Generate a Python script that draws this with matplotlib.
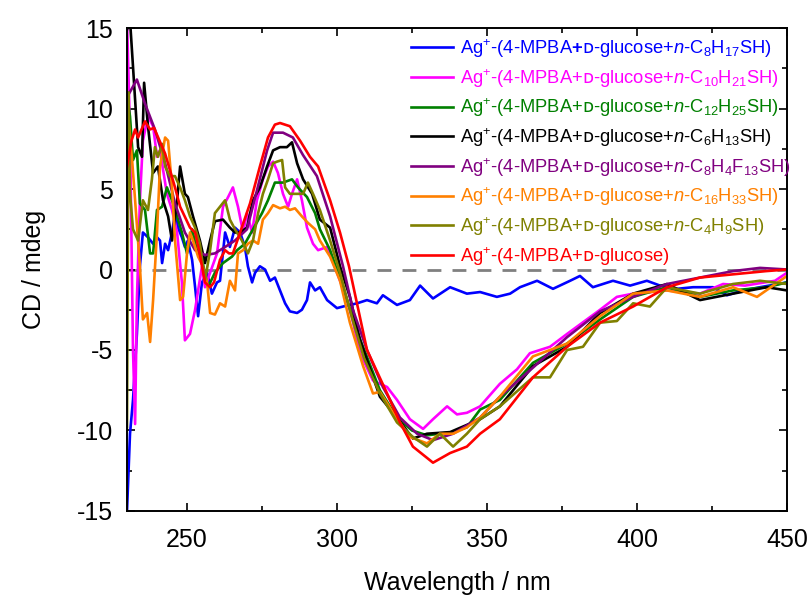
import matplotlib
matplotlib.use("Agg")
import matplotlib.pyplot as plt
from matplotlib.ticker import MultipleLocator

plt.rcParams['font.family'] = ['Liberation Sans', 'DejaVu Sans']
plt.rcParams['mathtext.fontset'] = 'custom'
plt.rcParams['mathtext.rm'] = 'Liberation Sans'
plt.rcParams['mathtext.it'] = 'Liberation Sans:italic'
plt.rcParams['mathtext.bf'] = 'Liberation Sans:bold'
plt.rcParams['mathtext.sf'] = 'DejaVu Sans'
plt.rcParams['axes.unicode_minus'] = False

# ---- data (wavelength nm, CD mdeg) ----
wl_c8 = [230, 231, 232, 233.3, 234.3, 235.3, 237, 238.7, 240, 241, 241.7, 242.7, 243.7, 245, 246, 247,
         248.3, 249.3, 250.3, 251.7, 252.7, 253.7, 255, 256.7, 258.3, 260, 261, 262.7, 264.3, 266, 267.7,
         269.3, 270.3, 271.7, 272.7, 274.3, 276, 277.7, 279.3, 281, 282.7, 284.3, 286.7, 288.3, 290, 291,
         292.7, 294.3, 296.7, 300, 302, 306.7, 310, 313.3, 315.3, 320, 324.3, 327.7, 332, 337.7, 343.3,
         347.7, 353.3, 357.7, 361, 366.7, 372, 377.7, 381, 385.3, 392, 397.7, 403.3, 407.7, 413.3, 418.7,
         425.3, 430, 435.3, 441, 450]
cd_c8 = [-15.0, -10.2, -8.1, -4.0, 0.2, 2.3, 2.0, 1.6, 2.0, 1.8, 0.4, 1.6, 1.2, 2.3, 3.5, 2.6,
         2.0, 1.4, 1.8, 0.6, -1.1, -2.9, -0.8, -0.2, -1.5, -0.8, -0.7, 2.3, 1.4, 2.6, 2.3,
         1.4, 0.2, -0.8, -0.2, 0.2, 0.0, -0.7, -0.5, -1.3, -2.1, -2.6, -2.7, -2.5, -1.9, -0.8,
         -1.3, -1.1, -1.9, -2.4, -2.3, -2.1, -1.9, -2.1, -1.6, -2.2, -1.9, -1.0, -1.8, -1.1, -1.5,
         -1.4, -1.7, -1.5, -1.1, -0.7, -1.2, -0.7, -0.4, -1.1, -0.7, -1.0, -0.7, -1.0, -1.2, -1.1,
         -1.1, -1.6, -1.3, -1.1, -0.8]

wl_c10 = [230, 231, 232, 232.7, 233.3, 234.3, 235.3, 237, 238.7, 240, 241, 243.3, 245, 246.7, 248.3,
          249.3, 251, 252.7, 253.7, 255, 256, 257.7, 260, 262, 263.7, 265.3, 267, 268.7, 270, 271.7,
          273.3, 275.3, 277, 278.7, 280.3, 282, 283.7, 285, 286.7, 288.3, 290, 292, 293.7, 296.7, 300,
          303, 305, 307.7, 312, 316.7, 320, 324.3, 328.7, 332, 336.7, 340, 343.3, 347.7, 354.3, 360,
          364.3, 371, 376.7, 387.7, 393.3, 398.7, 410, 421, 428.7, 436, 446, 450]
cd_c10 = [15.5, 8.5, -5.0, -9.6, -1.9, 4.3, 8.0, 9.5, 8.9, 7.0, 7.4, 4.7, 3.7, 2.3, -0.8,
          -4.4, -4.0, -2.5, -1.3, 0.2, -1.1, -0.2, 1.0, 3.9, 4.5, 5.1, 3.9, 2.3, 3.5, 2.3,
          4.3, 5.6, 6.4, 6.7, 6.0, 4.7, 3.9, 4.7, 5.6, 4.3, 2.6, 1.6, 1.2, 1.4, -0.2,
          -1.7, -3.0, -5.2, -6.9, -7.3, -8.1, -9.3, -9.9, -9.3, -8.5, -9.0, -8.9, -8.5, -7.1, -6.2,
          -5.2, -4.8, -4.0, -2.5, -1.7, -1.5, -1.3, -1.5, -0.9, -1.0, -0.7, -0.2]

wl_c12 = [230, 231, 232, 233.3, 234.3, 236, 237.7, 238.7, 240, 241.7, 243.3, 245, 246.7, 248.3, 250,
          251.7, 253.3, 255, 257, 259.3, 262, 265, 266.7, 269.3, 272, 275, 277, 279.3, 282, 285, 287,
          290, 292.7, 294.3, 297.7, 302, 307, 314.3, 320, 325, 330, 334.3, 338.7, 343.3, 347.7, 354.3,
          365.3, 376.7, 387.7, 398.7, 410, 421, 432, 443.3, 450]
cd_c12 = [11.0, 9.5, 6.8, 7.4, 4.1, 3.7, 1.0, 1.0, 3.7, 3.9, 5.1, 4.3, 3.3, 2.3, 1.0,
          2.5, 1.2, 0.6, -1.1, -0.2, 0.4, 0.8, 1.2, 1.6, 2.5, 3.5, 4.3, 5.4, 5.4, 5.6, 5.1,
          4.5, 3.5, 2.5, 1.2, -1.1, -4.0, -7.5, -9.2, -10.0, -10.3, -10.2, -10.1, -9.8, -8.7, -8.1,
          -5.8, -4.6, -3.1, -1.7, -1.1, -1.7, -1.3, -1.1, -0.8]

wl_c6 = [230, 231, 232, 233.7, 235, 235.7, 237, 238.7, 240.3, 242, 243.7, 245, 246.7, 247.7, 249.3,
         250.3, 252, 254.3, 256, 257.7, 259.3, 262, 264.3, 266, 267.7, 270, 272, 274.3, 276.7, 278.7,
         281, 283.3, 285, 286.7, 288.7, 291.7, 294.3, 297.7, 301, 304.3, 307.7, 314.3, 320, 325.3,
         330, 337.7, 347.7, 354.3, 365.3, 376.7, 387.7, 398.7, 410, 421, 432, 443.3, 450]
cd_c6 = [14.9, 15.5, 12.6, 7.6, 7.0, 11.6, 8.9, 6.0, 6.4, 4.3, 3.3, 1.8, 4.3, 6.4, 4.7,
         4.5, 3.3, 1.8, 0.4, 1.8, 3.0, 3.1, 2.6, 2.3, 2.3, 2.6, 4.3, 5.1, 6.4, 7.4,
         7.6, 7.6, 7.9, 6.6, 5.6, 4.7, 3.1, 2.6, 0.2, -1.7, -4.4, -7.9, -9.2, -10.5,
         -10.2, -10.1, -9.3, -8.5, -6.0, -4.8, -2.7, -1.5, -0.9, -1.9, -1.5, -1.1, -1.3]

wl_f13 = [230, 233.3, 236, 239.3, 242.7, 246, 249.3, 252.7, 256, 259.3, 262.7, 266, 270, 273.3, 276.7,
          278.7, 282, 285.3, 288.7, 293.3, 297.7, 302, 305.3, 310, 315.3, 321, 326.7, 332, 338.7, 347.7,
          354.3, 365.3, 376.7, 387.7, 398.7, 410, 421, 432, 441, 450]
cd_f13 = [10.7, 11.8, 10.3, 8.7, 6.6, 4.1, 2.3, 1.2, 0.9, 1.0, 1.4, 1.8, 2.5, 4.9, 7.4,
          8.5, 8.5, 8.2, 7.1, 5.8, 3.3, 0.2, -2.5, -5.0, -7.3, -9.2, -10.2, -10.6, -10.2, -9.2,
          -7.9, -6.1, -4.2, -2.6, -1.7, -0.9, -0.5, -0.1, 0.1, 0.0]

wl_c16 = [230, 230.5, 231.7, 232.7, 234.3, 235.3, 236.7, 237.7, 238.7, 240, 241, 242.7, 243.7, 245, 246,
          247.7, 248.7, 250, 251, 252, 253.7, 255.3, 256.7, 257.7, 259.3, 261, 262.7, 264.3, 266, 267,
          268.7, 270.3, 272, 273.7, 275.3, 277, 278.7, 281, 282.7, 284.3, 286, 288.3, 290.3, 292.7,
          294.3, 297.7, 301, 304.3, 308.7, 312, 314.3, 318.7, 324.3, 330, 334.3, 338.7, 343.3, 347.7,
          354.3, 365.3, 376.7, 387.7, 398.7, 410, 421, 432, 440, 450]
cd_c16 = [-1.1, 9.3, 6.8, 4.3, 0.2, -3.1, -2.7, -4.5, -1.9, 2.3, 6.4, 8.2, 8.0, 5.1, 1.8,
          -1.9, -1.7, 1.0, 2.3, 1.8, 0.8, 0.2, -0.8, -2.7, -2.8, -2.1, -2.3, -0.7, -1.3, 1.0,
          1.2, 1.6, 1.8, 1.6, 3.1, 3.5, 4.0, 3.8, 3.9, 3.7, 3.8, 3.3, 2.9, 2.5,
          1.8, 0.8, -0.7, -3.3, -6.0, -7.7, -7.6, -8.9, -10.4, -10.8, -10.2, -10.2, -9.8, -9.2,
          -7.9, -5.4, -4.6, -2.9, -1.5, -1.3, -1.7, -1.1, -1.7, -0.4]

wl_c4 = [230, 230.5, 231, 232, 233.7, 235.3, 237, 238.3, 239.3, 240.3, 241.7, 242.7, 244.3, 246, 247.7,
         249.3, 251, 252.7, 254.3, 256, 257.7, 259.3, 261, 262.7, 264.3, 266, 268.3, 270.3, 272, 273.7,
         275.3, 277, 278.7, 280, 281.7, 282.7, 284.3, 286.7, 288.7, 290.3, 292, 294.3, 297.7, 301, 305,
         309, 314.3, 320, 325.3, 330, 334.3, 338.7, 343.3, 347.7, 354.3, 365.3, 371, 376.7, 382, 387.7,
         393.3, 398.7, 404.3, 410, 421, 432, 441, 450]
cd_c4 = [-9.8, 11.0, 4.7, 2.5, 1.8, 4.3, 3.7, 5.6, 7.6, 7.0, 7.8, 6.4, 5.8, 5.8, 5.1,
         4.3, 3.3, 2.6, 1.6, -0.7, 1.2, 3.5, 3.9, 4.3, 3.1, 2.5, 1.8, 1.0, 1.8, 3.5,
         4.7, 5.6, 6.6, 6.7, 6.8, 5.1, 4.7, 4.7, 4.7, 5.4, 4.7, 3.7, 1.8, -0.2, -3.0,
         -5.5, -7.7, -9.5, -10.4, -11.0, -10.2, -11.0, -10.2, -9.3, -8.5, -6.7, -6.7, -5.0, -4.8, -3.3,
         -3.2, -2.1, -2.3, -1.1, -1.5, -0.9, -0.7, -0.9]

wl_ref = [230, 231.5, 232.7, 233.7, 236, 237.7, 239, 242.7, 246, 247.7, 251, 252.7, 254, 256, 257.7,
          259, 261, 262.7, 264, 265.3, 267.7, 271, 274.3, 277, 279.3, 281, 284.3, 287.7, 291, 293.7,
          297.7, 301, 304, 310, 316.7, 321, 325.3, 332, 337.7, 343.3, 347.7, 354.3, 365.3, 376.7,
          387.7, 398.7, 410, 421, 432, 443, 450]
cd_ref = [6.4, 8.0, 8.7, 8.2, 9.2, 8.7, 8.8, 7.2, 5.1, 3.9, 2.6, 2.3, 1.2, -0.8, -1.1,
          -0.8, 0.6, 1.2, 1.0, 1.0, 2.3, 4.1, 6.4, 8.2, 9.0, 9.1, 8.9, 8.0, 7.0, 6.4,
          4.3, 2.3, 0.2, -5.0, -7.7, -9.5, -11.0, -12.0, -11.4, -11.0, -10.2, -9.3, -6.7, -4.8,
          -3.3, -2.3, -1.1, -0.5, -0.3, -0.1, 0.0]

sd = r'$\mathsf{ᴅ}$'
labels = [
    r'Ag$^{+}$-(4-MPBA$\mathbf{+}$' + sd + r'-glucose+$\it{n}$-C$_{8}$H$_{17}$SH)',
    r'Ag$^{+}$-(4-MPBA+' + sd + r'-glucose+$\it{n}$-C$_{10}$H$_{21}$SH)',
    r'Ag$^{+}$-(4-MPBA+' + sd + r'-glucose+$\it{n}$-C$_{12}$H$_{25}$SH)',
    r'Ag$^{+}$-(4-MPBA+' + sd + r'-glucose+$\it{n}$-C$_{6}$H$_{13}$SH)',
    r'Ag$^{+}$-(4-MPBA+' + sd + r'-glucose+$\it{n}$-C$_{8}$H$_{4}$F$_{13}$SH)',
    r'Ag$^{+}$-(4-MPBA+' + sd + r'-glucose+$\it{n}$-C$_{16}$H$_{33}$SH)',
    r'Ag$^{+}$-(4-MPBA+' + sd + r'-glucose+$\it{n}$-C$_{4}$H$_{9}$SH)',
    r'Ag$^{+}$-(4-MPBA+' + sd + r'-glucose)',
]
colors = ['#0000ff', '#ff00ff', '#008000', '#000000', '#800080', '#ff8000', '#808000', '#ff0000']
series = [(wl_c8, cd_c8), (wl_c10, cd_c10), (wl_c12, cd_c12), (wl_c6, cd_c6),
          (wl_f13, cd_f13), (wl_c16, cd_c16), (wl_c4, cd_c4), (wl_ref, cd_ref)]

fig = plt.figure(figsize=(8.11, 5.95), dpi=100)
ax = fig.add_axes([0.1566, 0.1412, 0.8138, 0.8117])

ax.axhline(0, color='#808080', lw=2, ls=(0, (5, 4)), zorder=1)
for (x, y), c, lab in zip(series, colors, labels):
    ax.plot(x, y, color=c, lw=1.9, label=lab, zorder=2)

ax.set_xlim(230, 450)
ax.set_ylim(-15, 15)
ax.xaxis.set_major_locator(MultipleLocator(50))
ax.xaxis.set_minor_locator(MultipleLocator(25))
ax.yaxis.set_major_locator(MultipleLocator(5))
ax.yaxis.set_minor_locator(MultipleLocator(2.5))
ax.tick_params(which='both', direction='in', top=True, right=True, width=1.2, labelsize=18)
ax.tick_params(which='major', length=6)
ax.tick_params(which='minor', length=3.5)
ax.tick_params(axis='x', which='major', pad=12)
ax.tick_params(axis='y', which='major', pad=10)
for s in ax.spines.values():
    s.set_linewidth(1.4)

ax.set_xlabel('Wavelength / nm', fontsize=18, labelpad=14)
ax.set_ylabel('CD / mdeg', fontsize=18, labelpad=22)

ax.legend(loc='upper right', bbox_to_anchor=(1.02, 1.0), frameon=False, fontsize=13.2,
          labelcolor='linecolor', handlelength=2.3, handletextpad=0.4, labelspacing=0.38,
          borderaxespad=0.1)

plt.savefig('out.png', dpi=100)
